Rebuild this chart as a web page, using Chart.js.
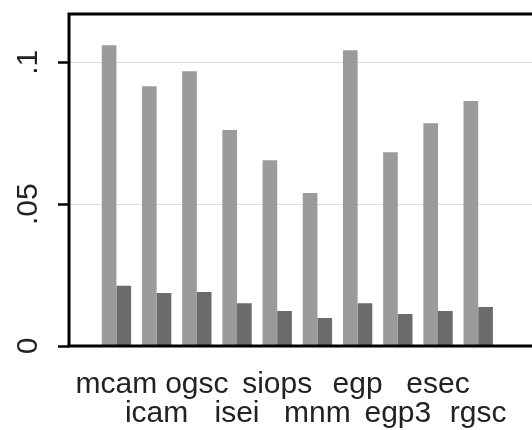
<!DOCTYPE html>
<html>
<head>
<meta charset="utf-8">
<script src="https://cdn.jsdelivr.net/npm/chart.js@4/dist/chart.umd.min.js"></script>
<style>
  html, body { margin: 0; padding: 0; background: #fff; width: 532px; height: 430px; overflow: hidden; }
  #wrap { width: 600px; height: 430px; }
  canvas { display: block; }
</style>
</head>
<body>
<div id="wrap"><canvas id="chart" width="600" height="430" style="width:600px;height:430px"></canvas></div>
<script>
// Measures, two series per category
const categories = ['mcam', 'icam', 'ogsc', 'isei', 'siops', 'mnm', 'egp', 'egp3', 'esec', 'rgsc'];
const seriesLight = [0.106, 0.0915, 0.0968, 0.0761, 0.0655, 0.0539, 0.1042, 0.0683, 0.0785, 0.0863];
const seriesDark = [0.0212, 0.0187, 0.019, 0.0151, 0.0123, 0.0099, 0.0151, 0.0113, 0.0123, 0.0137];
const yTickValues = [0, 0.05, 0.1];
const yTickLabels = ['0', '.05', '.1'];

const FONT = '"Liberation Sans", Arial, sans-serif';

// Frame around the plot region
const framePlugin = {
  id: 'frame',
  afterDatasetsDraw(chart) {
    const { ctx, chartArea: a } = chart;
    ctx.save();
    ctx.strokeStyle = '#000';
    ctx.lineWidth = 3;
    ctx.strokeRect(a.left, a.top, a.right - a.left, a.bottom - a.top);
    ctx.restore();
  }
};

new Chart(document.getElementById('chart'), {
  type: 'bar',
  data: {
    datasets: [
      {
        data: seriesLight.map((v, i) => ({ x: i, y: v })),
        backgroundColor: '#9b9b9b',
        borderWidth: 0
      },
      {
        data: seriesDark.map((v, i) => ({ x: i, y: v })),
        backgroundColor: '#6b6b6b',
        borderWidth: 0
      }
    ]
  },
  options: {
    responsive: false,
    animation: false,
    devicePixelRatio: 1,
    categoryPercentage: 0.73,
    barPercentage: 1,
    layout: { padding: { top: 14, right: 61.5, left: 0, bottom: 0 } },
    plugins: { legend: { display: false }, tooltip: { enabled: false } },
    scales: {
      x: {
        type: 'linear',
        offset: false,
        min: -1.18,
        max: 10.5,
        grid: { display: false, drawTicks: false, offset: false },
        border: { display: false },
        afterBuildTicks(scale) {
          scale.ticks = categories.map((_, i) => ({ value: i }));
        },
        afterFit(scale) {
          scale.height = 84;
          scale.paddingLeft = 0;
          scale.paddingRight = 0;
        },
        ticks: {
          autoSkip: false,
          maxRotation: 0,
          minRotation: 0,
          padding: 24,
          color: '#222',
          font: { family: FONT, size: 30, lineHeight: 0.967 },
          // alternate labels sit on a second row
          callback(value, index) {
            const name = categories[index];
            return index % 2 ? ['', name] : name;
          }
        }
      },
      y: {
        type: 'linear',
        min: 0,
        max: 0.117,
        border: { display: false },
        grid: {
          color: '#dcdcdc',
          lineWidth: 1,
          drawTicks: true,
          tickLength: 11,
          tickColor: '#000',
          tickWidth: 2.5
        },
        afterBuildTicks(scale) {
          scale.ticks = yTickValues.map(v => ({ value: v }));
        },
        afterFit(scale) {
          scale.width = 69;
          scale.paddingTop = 0;
          scale.paddingBottom = 0;
        },
        ticks: {
          minRotation: 90,
          maxRotation: 90,
          crossAlign: 'center',
          padding: 8,
          color: '#222',
          font: { family: FONT, size: 30, lineHeight: 0.8 },
          callback(value, index) {
            return yTickLabels[index];
          }
        }
      }
    }
  },
  plugins: [framePlugin]
});
</script>
</body>
</html>
